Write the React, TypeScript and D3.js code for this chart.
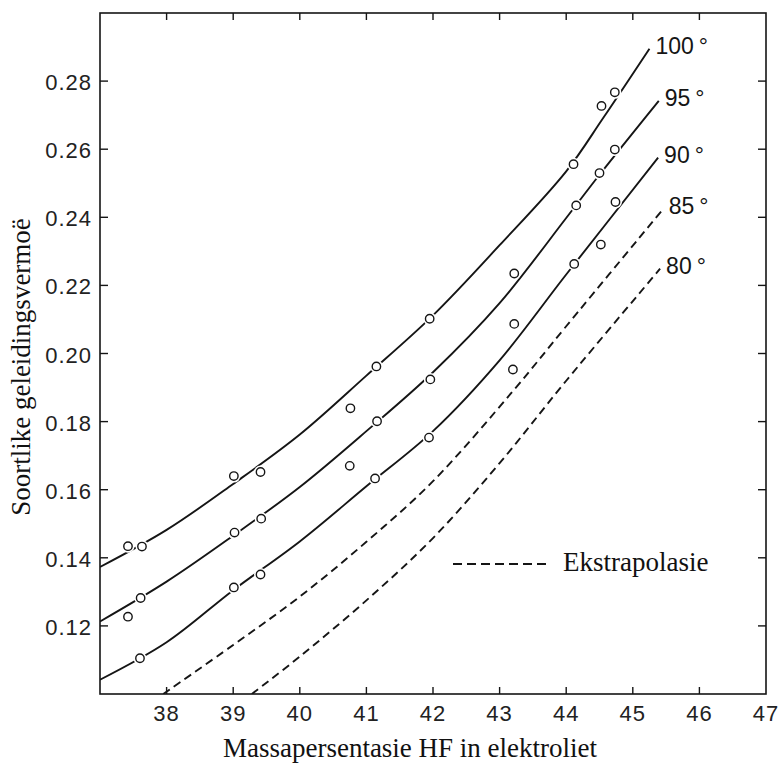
import React from "react";
import * as d3 from "d3";

// Axis ticks
const xTicks = [38, 39, 40, 41, 42, 43, 44, 45, 46, 47];
const xTickMarks = [38, 39, 40, 41, 42, 43, 44, 45, 46];
const yTicks = [0.12, 0.14, 0.16, 0.18, 0.2, 0.22, 0.24, 0.26, 0.28];

// Measured conductance (mass % HF, specific conductance)
const measured100 = [
  [37.42, 0.1434], [37.63, 0.1433], [39.01, 0.164], [39.41, 0.1652],
  [40.76, 0.1839], [41.15, 0.1962], [41.95, 0.2102], [43.22, 0.2235],
  [44.11, 0.2556], [44.53, 0.2727], [44.73, 0.2767],
];
const measured95 = [
  [37.42, 0.1227], [37.61, 0.1282], [39.02, 0.1474], [39.42, 0.1515],
  [40.75, 0.167], [41.16, 0.1801], [41.96, 0.1924], [43.22, 0.2087],
  [44.15, 0.2435], [44.5, 0.253], [44.73, 0.2599],
];
const measured90 = [
  [37.6, 0.1105], [39.01, 0.1313], [39.41, 0.1351], [41.13, 0.1633],
  [41.94, 0.1753], [43.2, 0.1953], [44.12, 0.2263], [44.52, 0.232],
  [44.74, 0.2445],
];

// Fitted isotherms
const curve100 = [
  [37.0, 0.1373], [38.0, 0.1482], [39.0, 0.1617], [40.0, 0.1762],
  [41.0, 0.1935], [42.0, 0.2112], [43.0, 0.2318], [44.0, 0.2535],
  [44.55, 0.269], [45.25, 0.2895],
];
const curve95 = [
  [37.0, 0.1213], [38.0, 0.133], [39.0, 0.1465], [40.0, 0.1608],
  [41.0, 0.1772], [42.0, 0.1945], [43.0, 0.2148], [44.0, 0.2398],
  [44.5, 0.2525], [45.39, 0.2742],
];
const curve90 = [
  [37.0, 0.1042], [38.0, 0.1152], [39.0, 0.1305], [40.0, 0.1448],
  [41.0, 0.161], [42.0, 0.1772], [43.0, 0.198], [44.0, 0.2232],
  [45.38, 0.2575],
];
// Extrapolated isotherms
const curve85 = [
  [37.95, 0.1], [39.0, 0.1144], [40.0, 0.1286], [41.0, 0.1447],
  [42.0, 0.1625], [43.21, 0.1892], [44.0, 0.208], [45.45, 0.2423],
];
const curve80 = [
  [39.28, 0.1], [40.0, 0.111], [41.0, 0.1275], [42.0, 0.1458],
  [43.0, 0.1678], [44.0, 0.192], [45.41, 0.2249],
];

const temperatures = ["100", "95", "90", "85", "80"];
const curves = [curve100, curve95, curve90, curve85, curve80];
const extrapolated = [false, false, false, true, true];
const measured = [measured100, measured95, measured90];

const xTitle = "Massapersentasie HF in elektroliet";
const yTitle = "Soortlike geleidingsvermoë";
const legendLabel = "Ekstrapolasie";

const W = 780;
const H = 763;
const plot = { left: 100, right: 766, top: 13, bottom: 694 };

const ink = "#151515";
const sans = "'Liberation Sans', Arial, sans-serif";
const serif = "'Liberation Serif', 'Times New Roman', serif";

export default function App() {
  const x = d3.scaleLinear().domain([37, 47]).range([plot.left, plot.right]);
  const y = d3.scaleLinear().domain([0.1, 0.3]).range([plot.bottom, plot.top]);
  const line = d3
    .line<number[]>()
    .x((d) => x(d[0]))
    .y((d) => y(d[1]))
    .curve(d3.curveCatmullRom.alpha(0.5));

  const fmt = (v: number) => v.toFixed(2);
  const allPoints = measured.flat();

  return (
    <svg
      width={W}
      height={H}
      style={{ position: "absolute", left: 0, top: 0, display: "block", background: "#fff" }}
    >
      <defs>
        <clipPath id="plot-area">
          <rect
            x={plot.left}
            y={plot.top}
            width={plot.right - plot.left}
            height={plot.bottom - plot.top}
          />
        </clipPath>
      </defs>

      {/* isotherms */}
      <g clipPath="url(#plot-area)" fill="none" stroke={ink} strokeWidth={1.9}>
        {curves.map((c, i) => (
          <path
            key={temperatures[i]}
            d={line(c) || ""}
            strokeDasharray={extrapolated[i] ? "8,5" : undefined}
          />
        ))}
      </g>

      {/* measured points: white halo breaks the curve around each marker */}
      <g>
        {allPoints.map((p, i) => (
          <circle key={"h" + i} cx={x(p[0])} cy={y(p[1])} r={6.5} fill="#fff" />
        ))}
        {allPoints.map((p, i) => (
          <circle
            key={"m" + i}
            cx={x(p[0])}
            cy={y(p[1])}
            r={4.2}
            fill="#fff"
            stroke={ink}
            strokeWidth={1.4}
          />
        ))}
      </g>

      {/* temperature labels at the curve ends */}
      <g fontFamily={sans} fontSize={23} fill={ink}>
        {curves.map((c, i) => {
          const end = c[c.length - 1];
          return (
            <text key={"t" + i} x={x(end[0]) + 6} y={y(end[1]) + 5}>
              {temperatures[i]}
              <tspan dx={5} fontSize={23}>°</tspan>
            </text>
          );
        })}
      </g>

      {/* frame */}
      <rect
        x={plot.left}
        y={plot.top}
        width={plot.right - plot.left}
        height={plot.bottom - plot.top}
        fill="none"
        stroke={ink}
        strokeWidth={1.6}
      />

      {/* ticks on all four sides, pointing inward */}
      <g stroke={ink} strokeWidth={1.4}>
        {yTicks.map((t) => (
          <g key={"y" + t}>
            <line x1={plot.left} x2={plot.left + 8} y1={y(t)} y2={y(t)} />
            <line x1={plot.right} x2={plot.right - 8} y1={y(t)} y2={y(t)} />
          </g>
        ))}
        {xTickMarks.map((t) => (
          <g key={"x" + t}>
            <line x1={x(t)} x2={x(t)} y1={plot.bottom} y2={plot.bottom - 7} />
            <line x1={x(t)} x2={x(t)} y1={plot.top} y2={plot.top + 7} />
          </g>
        ))}
      </g>

      {/* tick labels */}
      <g fontFamily={sans} fontSize={22} fill="#222" letterSpacing={1}>
        {yTicks.map((t) => (
          <text key={"yl" + t} x={plot.left - 8} y={y(t) + 9} textAnchor="end">
            {fmt(t)}
          </text>
        ))}
        {xTicks.map((t) => (
          <text key={"xl" + t} x={x(t)} y={plot.bottom + 27} textAnchor="middle">
            {t}
          </text>
        ))}
      </g>

      {/* axis titles */}
      <text
        x={410}
        y={757}
        textAnchor="middle"
        fontFamily={serif}
        fontSize={27}
        fill="#111"
      >
        {xTitle}
      </text>
      <text
        transform="translate(30,367) rotate(-90)"
        textAnchor="middle"
        fontFamily={serif}
        fontSize={27}
        fill="#111"
      >
        {yTitle}
      </text>

      {/* legend */}
      <line
        x1={453}
        x2={549}
        y1={564}
        y2={564}
        stroke={ink}
        strokeWidth={1.8}
        strokeDasharray="9,5"
      />
      <text x={563} y={571} fontFamily={serif} fontSize={27} fill="#111">
        {legendLabel}
      </text>
    </svg>
  );
}
